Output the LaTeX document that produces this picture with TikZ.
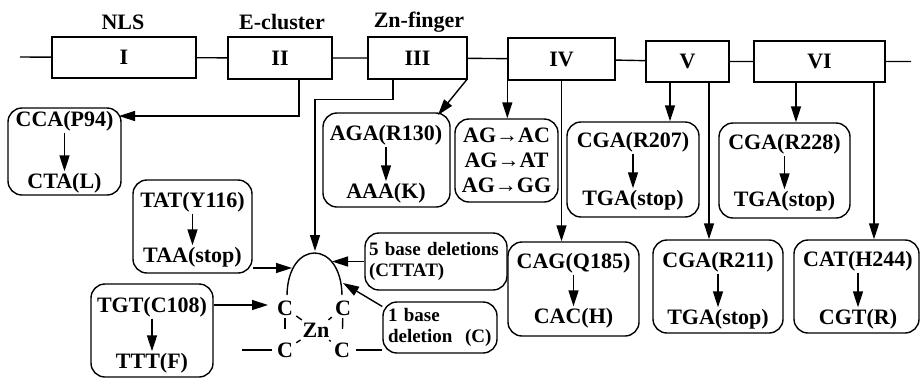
\documentclass[tikz,border=0pt]{standalone}
\usepackage{fontspec}
\setmainfont{Liberation Serif}
\usetikzlibrary{arrows.meta}

\begin{document}
\begin{tikzpicture}[x=1pt,y=-1pt,line width=1.4pt,
    font=\fontsize{22}{25}\selectfont\bfseries,
    dombox/.style={draw,inner sep=0pt},
    mutbox/.style={draw,rounded corners=14pt,inner sep=0pt},
    lbl/.style={inner sep=1pt},
    delbox/.style={draw,rounded corners=14pt,align=left,inner ysep=0pt,
      font=\fontsize{19}{21}\selectfont\bfseries},
    arr/.style={-{Triangle[length=16pt,width=10pt]}}]
  \useasboundingbox (0,0) rectangle (920,378);

  % domains on the backbone
  \node[dombox,minimum width=144pt,minimum height=41pt] (d1) at (124,57.5) {I};
  \node[dombox,minimum width=104pt,minimum height=42pt] (d2) at (280,58) {II};
  \node[dombox,minimum width=99pt,minimum height=42pt] (d3) at (417.5,58) {III};
  \node[dombox,minimum width=107pt,minimum height=42pt] (d4) at (561.5,59) {IV};
  \node[dombox,minimum width=83pt,minimum height=41pt] (d5) at (687.5,61.5) {V};
  \node[dombox,minimum width=131pt,minimum height=41pt] (d6) at (819.5,61.5) {VI};
  \coordinate (bbl) at (20,57);
  \coordinate (bbr) at (911,61.5);
  \draw (bbl) -- (d1) (d1) -- (d2) (d2) -- (d3) (d3) -- (d4)
        (d4) -- (d5) (d5) -- (d6) (d6) -- (bbr);

  \node at (123,22) {NLS};
  \node at (282,22) {E-cluster};
  \node at (419,22) {Zn-finger};

  % point mutations
  \node[mutbox,minimum width=113pt,minimum height=87pt] (p94) at (64.5,151.5) {};
  \node[lbl] (p94a) at (64.5,121) {CCA(P94)};
  \node[lbl] (p94b) at (64.5,183) {CTA(L)};
  \draw[arr] (p94a) -- (p94b);

  \node[mutbox,minimum width=127pt,minimum height=94pt] (r130) at (386.5,160) {};
  \node[lbl] (r130a) at (386,135) {AGA(R130)};
  \node[lbl] (r130b) at (386,193) {AAA(K)};
  \draw[arr] (r130a) -- (r130b);

  \node[mutbox,minimum width=103pt,minimum height=83pt,align=center] (ag) at (506.5,160.5)
    {AG→AC\\AG→AT\\AG→GG};

  \node[mutbox,minimum width=132pt,minimum height=95pt] (r207) at (633,169.5) {};
  \node[lbl] (r207a) at (633,142) {CGA(R207)};
  \node[lbl] (r207b) at (633,200) {TGA(stop)};
  \draw[arr] (r207a) -- (r207b);

  \node[mutbox,minimum width=131pt,minimum height=95pt] (r228) at (784.5,170.5) {};
  \node[lbl] (r228a) at (784.5,144) {CGA(R228)};
  \node[lbl] (r228b) at (784.5,201) {TGA(stop)};
  \draw[arr] (r228a) -- (r228b);

  \node[mutbox,minimum width=119pt,minimum height=93pt] (y116) at (192.5,226.5) {};
  \node[lbl] (y116a) at (192.5,202) {TAT(Y116)};
  \node[lbl] (y116b) at (192.5,257) {TAA(stop)};
  \draw[arr] (y116a) -- (y116b);

  \node[mutbox,minimum width=122pt,minimum height=93pt] (c108) at (152,330.5) {};
  \node[lbl] (c108a) at (152,307) {TGT(C108)};
  \node[lbl] (c108b) at (152,363) {TTT(F)};
  \draw[arr] (c108a) -- (c108b);

  \node[mutbox,minimum width=131pt,minimum height=94pt] (q185) at (573.5,289) {};
  \node[lbl] (q185a) at (573.5,263) {CAG(Q185)};
  \node[lbl] (q185b) at (573.5,318) {CAC(H)};
  \draw[arr] (q185a) -- (q185b);

  \node[mutbox,minimum width=130pt,minimum height=93pt] (r211) at (718,286.5) {};
  \node[lbl] (r211a) at (718,262) {CGA(R211)};
  \node[lbl] (r211b) at (718,319) {TGA(stop)};
  \draw[arr] (r211a) -- (r211b);

  \node[mutbox,minimum width=125pt,minimum height=93pt] (h244) at (856.5,286.5) {};
  \node[lbl] (h244a) at (858,261) {CAT(H244)};
  \node[lbl] (h244b) at (858,319) {CGT(R)};
  \draw[arr] (h244a) -- (h244b);

  % deletions
  \node[delbox,inner xsep=4pt,text width=134pt,minimum height=57pt] (del5) at (436,261.5)
    {5 base deletions\\(CTTAT)};
  \node[delbox,inner xsep=5pt,text width=104pt,minimum height=51pt] (del1) at (440,327.5)
    {1 base\\deletion\ \ (C)};

  % zinc finger
  \coordinate (arcl) at (287,295);
  \coordinate (arcr) at (342,295);
  \draw (arcl) .. controls (288,239) and (341,239) .. (arcr);
  \node[lbl] (c1) at (285,308) {C};
  \node[lbl] (c2) at (343,308) {C};
  \node[lbl] (c3) at (285,350) {C};
  \node[lbl] (c4) at (342,350) {C};
  \node[lbl] (zn) at (316,330) {Zn};
  \draw[shorten <=2pt,shorten >=2pt] (c1) -- (zn);
  \draw[shorten <=2pt,shorten >=2pt] (c2) -- (zn);
  \draw[shorten <=2pt,shorten >=2pt] (c3) -- (zn);
  \draw[shorten <=2pt,shorten >=2pt] (c4) -- (zn);
  \draw[shorten <=1pt,shorten >=12pt] (c1) -- (c3);
  \draw[shorten <=1pt,shorten >=12pt] (c2) -- (c4);
  \coordinate (hl) at (242,350);
  \draw[shorten >=3pt] (hl) -- (c3);
  \draw[shorten <=4pt] (c4) -- (c4 -| del1.west);

  % connectors from the domains
  \coordinate (v2) at ([xshift=19pt]d2.south);
  \coordinate (v3) at ([xshift=-24.5pt]d3.south);
  \coordinate (v5a) at ([xshift=-17.5pt]d5.south);
  \coordinate (v5b) at ([xshift=21.5pt]d5.south);
  \coordinate (v6a) at ([xshift=-23.5pt]d6.south);
  \coordinate (v6b) at ([xshift=54.5pt]d6.south);
  \coordinate (p94in) at (119,116);
  \coordinate (r130in) at (438,115);
  \coordinate (arctop) at (315,251);
  \draw[arr] (v2) |- (p94in);
  \draw[arr] ([xshift=-1pt]d3.south east) -- (r130in);
  \draw[arr] (v3) -- ++(0,20) -| (arctop);
  \draw[arr] (d4.south west) -- (d4.south west |- ag.north);
  \draw[arr] (d4.south) -- (d4.south |- q185.north);
  \draw[arr] (v5a) -- (v5a |- r207.north);
  \draw[arr] (v5b) -- (v5b |- r211.north);
  \draw[arr] (v6a) -- (v6a |- r228.north);
  \draw[arr] (v6b) -- (v6b |- h244.north);

  % hits on the zinc finger
  \coordinate (tip1) at (292,268);
  \coordinate (tip2) at (268,305);
  \coordinate (tip3) at (332,261.5);
  \coordinate (tip4) at (343,283);
  \draw[arr] (tip1 -| y116.east) -- (tip1);
  \draw[arr] (tip2 -| c108.east) -- (tip2);
  \draw[arr] (del5.west) -- (tip3);
  \draw[arr] (del1.160) -- (tip4);
\end{tikzpicture}
\end{document}
